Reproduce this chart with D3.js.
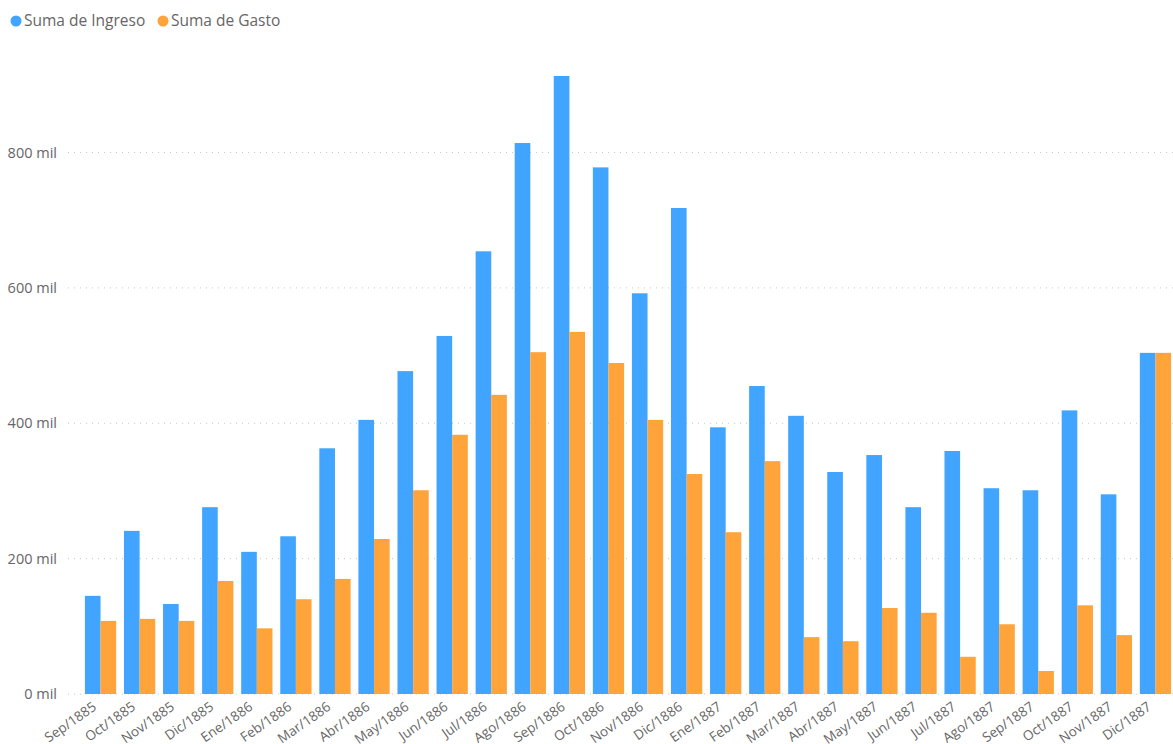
<!DOCTYPE html>
<html><head><meta charset="utf-8">
<script src="https://cdn.jsdelivr.net/npm/d3@7"></script>
<style>
body{margin:0;background:#fff;}
text{font-family:"Segoe UI","Open Sans",sans-serif;}
</style></head>
<body><svg id="c" width="1173" height="744"></svg>
<script>
const categories = ["Sep/1885","Oct/1885","Nov/1885","Dic/1885","Ene/1886","Feb/1886","Mar/1886","Abr/1886","May/1886","Jun/1886","Jul/1886","Ago/1886","Sep/1886","Oct/1886","Nov/1886","Dic/1886","Ene/1887","Feb/1887","Mar/1887","Abr/1887","May/1887","Jun/1887","Jul/1887","Ago/1887","Sep/1887","Oct/1887","Nov/1887","Dic/1887"];
const ingreso = [145,241,133,276,210,233,363,405,477,529,654,814,913,778,592,718,394,455,411,328,353,276,359,304,301,419,295,504];
const gasto = [108,111,108,167,97,140,170,229,301,383,442,505,535,489,405,325,239,344,84,78,127,120,55,103,34,131,87,504];
const seriesNames = ["Suma de Ingreso","Suma de Gasto"];
const yTicks = [0,200,400,600,800];
const colors = ["#41A4FF","#FFA33B"];

const svg = d3.select("#c");
const x = d3.scaleBand().domain(categories).range([81,1175]).paddingInner(0.2).paddingOuter(0.1);
const xs = d3.scaleBand().domain([0,1]).range([0,x.bandwidth()]);
const y = d3.scaleLinear().domain([0,800]).range([694,152.5]);

// gridlines
svg.append("g").selectAll("line").data(yTicks).join("line")
  .attr("x1",68).attr("x2",1173).attr("y1",d=>y(d)).attr("y2",d=>y(d))
  .attr("stroke","#c8c8c8").attr("stroke-width",1).attr("stroke-dasharray","1,5");

// y labels
svg.append("g").selectAll("text").data(yTicks).join("text")
  .attr("x",57).attr("y",d=>y(d)).attr("dy","0.35em").attr("text-anchor","end")
  .attr("fill","#666").attr("font-size",14.5).text(d=>d+" mil");

// bars
const groups = svg.append("g").selectAll("g").data(categories).join("g")
  .attr("transform",d=>`translate(${x(d)},0)`);
groups.selectAll("rect").data((d,i)=>[ingreso[i],gasto[i]]).join("rect")
  .attr("x",(d,j)=>xs(j)).attr("width",xs.bandwidth())
  .attr("y",d=>y(d)).attr("height",d=>y(0)-y(d))
  .attr("fill",(d,j)=>colors[j]);

// x labels
svg.append("g").selectAll("text").data(categories).join("text")
  .attr("transform",d=>`translate(${x(d)+x.bandwidth()/2-6},${705}) rotate(-35)`)
  .attr("text-anchor","end").attr("dy","0.35em")
  .attr("fill","#666").attr("font-size",13.5).text(d=>d);

// legend
const leg = svg.append("g");
const legX = [16,163];
seriesNames.forEach((n,i)=>{
  leg.append("circle").attr("cx",legX[i]).attr("cy",21).attr("r",5.5).attr("fill",colors[i]);
  leg.append("text").attr("x",legX[i]+8).attr("y",21).attr("dy","0.35em")
    .attr("fill","#666").attr("font-size",15.5).text(n);
});
</script></body></html>
